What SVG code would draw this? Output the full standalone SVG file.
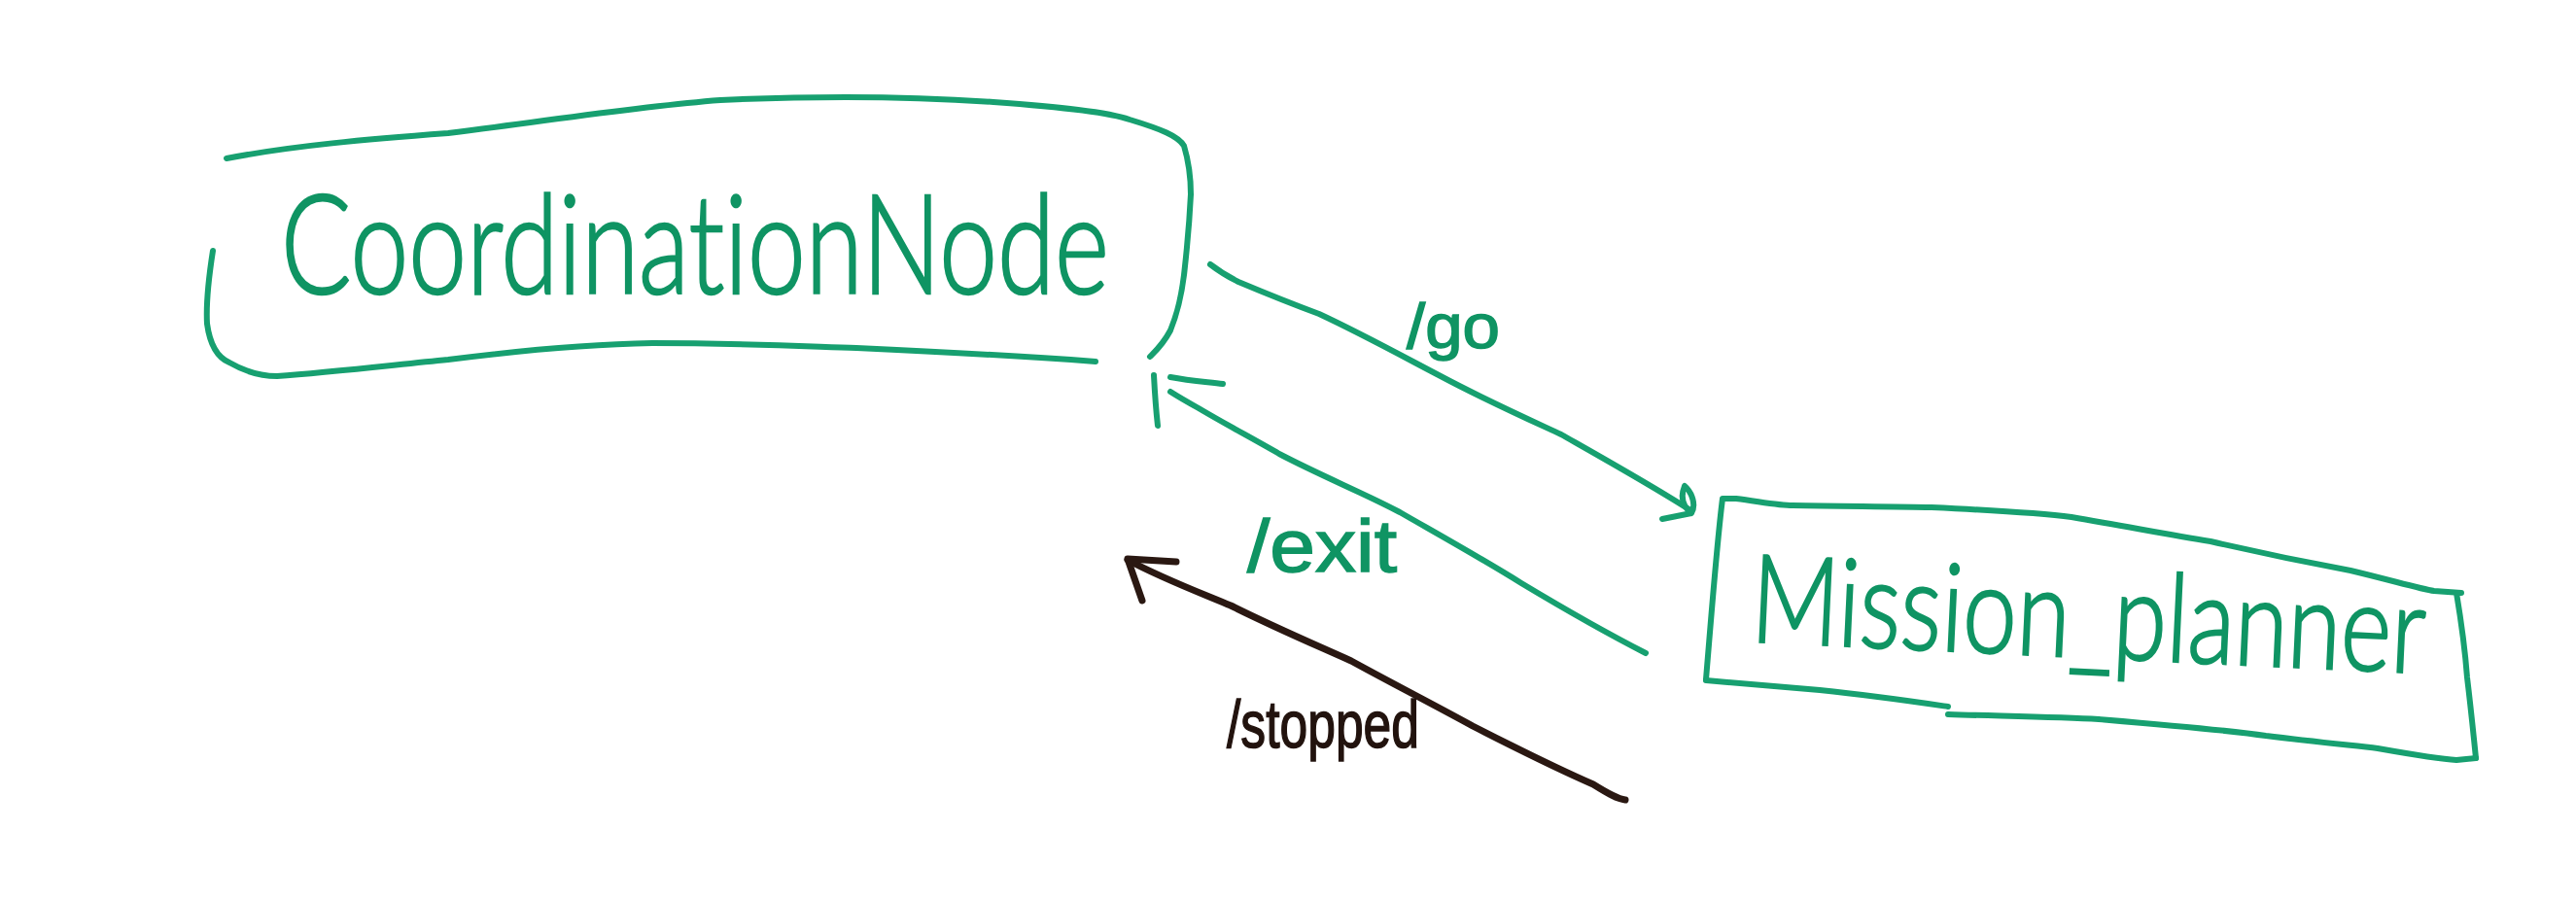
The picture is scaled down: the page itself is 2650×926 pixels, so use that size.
<svg xmlns="http://www.w3.org/2000/svg" width="2650" height="926" viewBox="0 0 2650 926">
<style>
.ln{fill:none;stroke:#17a070;stroke-width:6;stroke-linecap:round;stroke-linejoin:round}
.bk{fill:none;stroke:#2a1812;stroke-width:7;stroke-linecap:round;stroke-linejoin:round}
.t{font-family:Lato,"Liberation Sans",sans-serif;font-weight:300;fill:#0f9463;stroke:#0f9463;stroke-width:2.5;font-variant-ligatures:none}
.lb{font-family:"Liberation Sans",Arial,sans-serif;font-weight:400;fill:#0f9463;stroke:#0f9463;stroke-width:1.5}
.tb{font-family:"Liberation Sans",Arial,sans-serif;font-weight:400;fill:#22130e;stroke:#22130e;stroke-width:1.5}
</style>
<rect width="2650" height="926" fill="#ffffff"/>
<g id="coordination-node">
<path class="ln" d="M233,163 C300,150 380,143 461,137 C560,125 650,110 741,103 C850,98 950,100 1022,105 C1090,110 1140,115 1162,123 C1195,133 1212,140 1218,150 C1224,170 1225,185 1225,200 C1223,240 1220,265 1218,283 C1214,315 1208,330 1204,340 C1196,355 1188,362 1183,367"/>
<path class="ln" d="M219,258 C214,290 212,315 213,333 C216,355 224,368 236,373 C255,384 270,387 285,387 C340,383 400,376 461,370 C540,360 610,354 671,353 C760,353 820,356 881,358 C970,362 1060,367 1127,372"/>
<text class="t" x="289" y="302" font-size="142" textLength="852" lengthAdjust="spacingAndGlyphs">CoordinationNode</text>
</g>
<g id="mission-planner">
<path class="ln" d="M1755,699 C1760,640 1766,560 1772,513 L1786,513 C1810,516 1830,520 1844,520 C1900,521 1950,521 1987,522 C2050,525 2100,528 2131,532 C2190,542 2230,550 2274,557 C2330,570 2380,580 2418,587 C2460,597 2490,606 2504,608 L2532,610 L2527,610 C2532,640 2536,670 2538,697 C2542,730 2545,760 2547,780"/>
<path class="ln" d="M1755,700 C1800,704 1840,707 1872,710 C1930,716 1970,722 2004,727"/>
<path class="ln" d="M2004,735 C2070,737 2120,738 2159,740 C2230,746 2290,751 2331,757 C2380,763 2420,767 2446,770 C2480,776 2510,781 2527,782 L2547,780"/>
<text class="t" x="1800" y="660" font-size="126" textLength="694" lengthAdjust="spacingAndGlyphs" transform="rotate(2.7 1800 660)">Mission_planner</text>
</g>
<g id="connectors">
<path class="ln" d="M1245,272 C1258,282 1266,286 1274,290 C1305,303 1330,313 1357,323 C1400,343 1440,365 1482,387 C1525,410 1565,428 1606,447 C1650,472 1700,500 1739,525"/>
<path class="ln" d="M1710,534 L1740,528 C1745,520 1741,507 1733,500 C1729,510 1730,520 1740,528"/>
<text class="lb" x="1447" y="358" font-size="64" textLength="96" lengthAdjust="spacingAndGlyphs">/go</text>
<path class="ln" d="M1204,403 C1215,410 1224,415 1233,420 C1260,436 1290,452 1316,467 C1360,490 1400,506 1440,527 C1480,550 1525,575 1565,600 C1610,627 1650,650 1693,672"/>
<path class="ln" d="M1187,386 C1188,405 1189,420 1191,438"/>
<path class="ln" d="M1204,388 C1225,392 1243,393 1258,395"/>
<text class="lb" x="1283" y="588" font-size="76" textLength="154" lengthAdjust="spacingAndGlyphs">/exit</text>
<path class="bk" d="M1160,576 C1195,595 1235,610 1266,623 C1310,645 1350,662 1390,680 C1430,702 1475,725 1515,747 C1560,770 1600,790 1639,807 C1655,817 1664,822 1672,823"/>
<path class="bk" d="M1210,578 L1160,575 L1175,618"/>
<text class="tb" x="1262" y="769" font-size="68" textLength="198" lengthAdjust="spacingAndGlyphs">/stopped</text>
</g>
</svg>
